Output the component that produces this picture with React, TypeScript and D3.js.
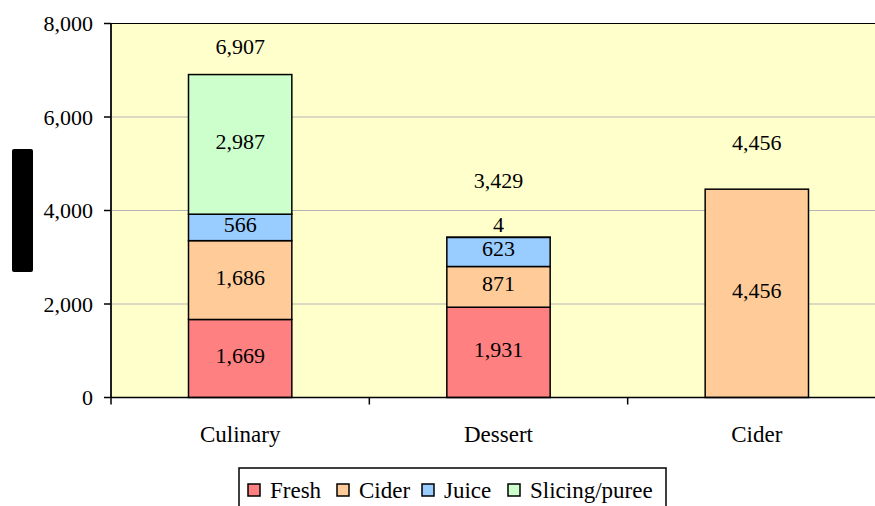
import React from "react";
import * as d3 from "d3";

const categories = ["Culinary", "Dessert", "Cider"];
const seriesNames = ["Fresh", "Cider", "Juice", "Slicing/puree"];
const fresh = [1669, 1931, 0];
const cider = [1686, 871, 4456];
const juice = [566, 623, 0];
const slicing = [2987, 4, 0];
const totals = [6907, 3429, 4456];
const yTicks = [0, 2000, 4000, 6000, 8000];

const colors = ["#FF8080", "#FFCC99", "#99CCFF", "#CCFFCC"];

const width = 875;
const height = 506;
const marginLeft = 111;
const marginTop = 23.5;
const plotBottom = 397.5;
const plotRight = 886;
// px above each bar top where the total label sits
const totalOffset = [28, 57, 47];
const legendX = [248, 337, 422, 508];

const font = "'Liberation Serif', 'Times New Roman', serif";

export default function App() {
  const x = d3
    .scaleBand()
    .domain(categories)
    .range([marginLeft, plotRight])
    .paddingInner(0.6)
    .paddingOuter(0.3);
  const band = (plotRight - marginLeft) / categories.length;
  const y = d3.scaleLinear().domain([0, 8000]).range([plotBottom, marginTop]);
  const fmt = d3.format(",");

  const rows = categories.map((c, i) => ({
    cat: c,
    Fresh: fresh[i],
    Cider: cider[i],
    Juice: juice[i],
    "Slicing/puree": slicing[i],
  }));
  const stacked = d3.stack().keys(seriesNames)(rows as any);

  return (
    <svg
      width={width}
      height={height}
      style={{ position: "absolute", left: 0, top: 0, background: "#fff" }}
      fontFamily={font}
    >
      <rect
        x={marginLeft}
        y={marginTop}
        width={plotRight - marginLeft}
        height={plotBottom - marginTop}
        fill="#FFFFCC"
        stroke="#000"
        strokeWidth={1}
      />
      {yTicks
        .filter((t) => t > 0 && t < 8000)
        .map((t) => (
          <line
            key={t}
            x1={marginLeft}
            x2={plotRight}
            y1={y(t)}
            y2={y(t)}
            stroke="#B4B4B4"
            strokeWidth={1}
          />
        ))}

      {stacked.map((s, si) => (
        <g key={s.key}>
          {s.map((d, ci) => {
            const v = d[1] - d[0];
            if (v <= 0) return null;
            const x0 = x(categories[ci])!;
            const top = y(d[1]);
            const h = y(d[0]) - top;
            const small = h < 12;
            return (
              <g key={ci}>
                <rect
                  x={x0}
                  y={top}
                  width={x.bandwidth()}
                  height={h}
                  fill={colors[si]}
                  stroke="#000"
                  strokeWidth={1.5}
                />
                <text
                  x={x0 + x.bandwidth() / 2}
                  y={small ? top - 13 : top + h / 2 - 3}
                  textAnchor="middle"
                  dominantBaseline="central"
                  fontSize={22}
                  fill="#000"
                >
                  {fmt(v)}
                </text>
              </g>
            );
          })}
        </g>
      ))}

      {totals.map((t, i) => (
        <text
          key={i}
          x={x(categories[i])! + x.bandwidth() / 2}
          y={y(t) - totalOffset[i]}
          textAnchor="middle"
          dominantBaseline="central"
          fontSize={22}
        >
          {fmt(t)}
        </text>
      ))}

      {/* y axis */}
      <line x1={marginLeft} x2={marginLeft} y1={marginTop} y2={plotBottom} stroke="#000" strokeWidth={1.5} />
      {yTicks.map((t) => (
        <g key={t}>
          <line x1={104} x2={marginLeft} y1={y(t)} y2={y(t)} stroke="#000" strokeWidth={1.5} />
          <text x={93} y={y(t)} textAnchor="end" dominantBaseline="central" fontSize={22}>
            {fmt(t)}
          </text>
        </g>
      ))}

      {/* x axis */}
      <line x1={marginLeft} x2={plotRight} y1={plotBottom} y2={plotBottom} stroke="#000" strokeWidth={1.5} />
      {d3.range(categories.length + 1).map((i) => (
        <line
          key={i}
          x1={marginLeft + i * band}
          x2={marginLeft + i * band}
          y1={plotBottom}
          y2={plotBottom + 7}
          stroke="#000"
          strokeWidth={1.5}
        />
      ))}
      {categories.map((c) => (
        <text
          key={c}
          x={x(c)! + x.bandwidth() / 2}
          y={434.5}
          textAnchor="middle"
          dominantBaseline="central"
          fontSize={23}
        >
          {c}
        </text>
      ))}

      {/* obscured axis title */}
      <rect x={12} y={149} width={21} height={123} rx={2} fill="#000" />

      {/* legend */}
      <rect x={239} y={468} width={427} height={50} fill="#fff" stroke="#000" strokeWidth={1.5} />
      {seriesNames.map((n, i) => (
        <g key={n}>
          <rect x={legendX[i]} y={484} width={12} height={12} fill={colors[i]} stroke="#000" strokeWidth={1.5} />
          <text x={legendX[i] + 22} y={490} dominantBaseline="central" fontSize={23}>
            {n}
          </text>
        </g>
      ))}
    </svg>
  );
}
